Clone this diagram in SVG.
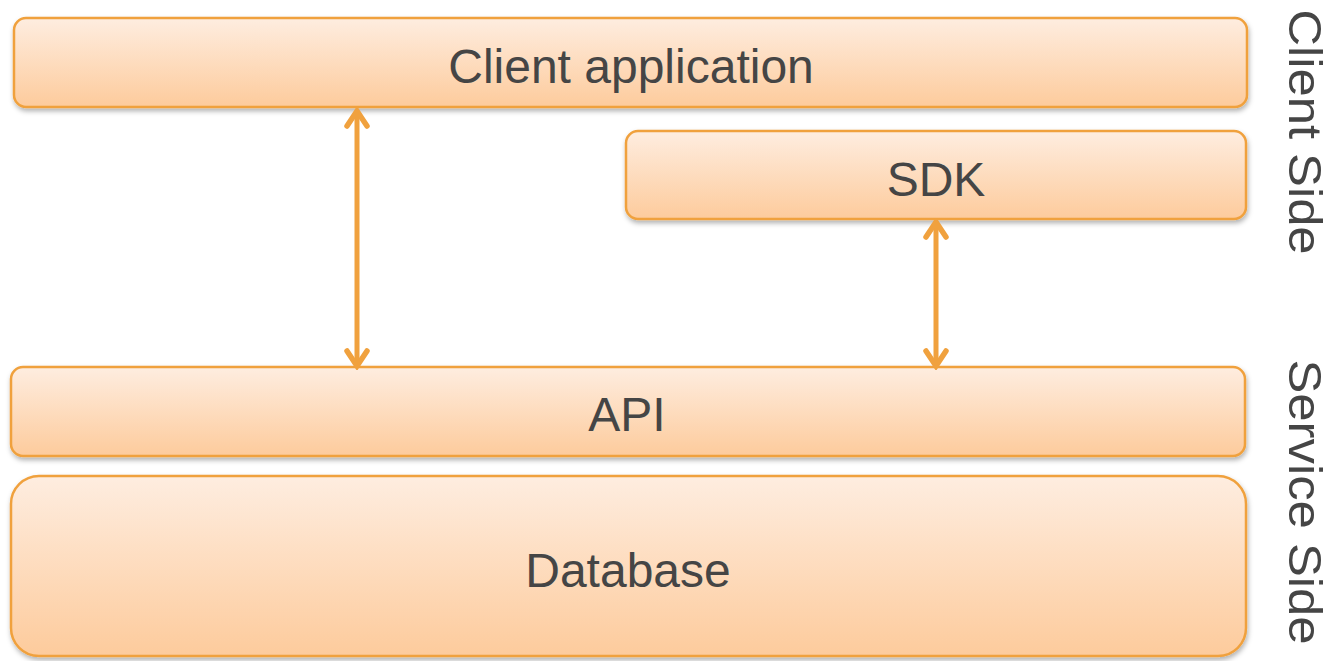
<svg xmlns="http://www.w3.org/2000/svg" width="1332" height="661" viewBox="0 0 1332 661">
<style>
.box{stroke:#F0A13E;stroke-width:2.5;fill:url(#g);filter:url(#sh)}
.lbl{font-family:"Liberation Sans",Arial,sans-serif;font-size:48px;fill:#454545;text-anchor:middle}
.side{font-family:"Liberation Sans",Arial,sans-serif;font-size:46px;fill:#454545;text-anchor:middle}
.conn{stroke:#F0A13E;stroke-width:5;fill:none;marker-start:url(#ah);marker-end:url(#ah)}
</style>
<defs>
<linearGradient id="g" x1="0" y1="0" x2="0" y2="1">
<stop offset="0" stop-color="#FEEDE0"/>
<stop offset="1" stop-color="#FDCB9C"/>
</linearGradient>
<filter id="sh" x="-5%" y="-20%" width="110%" height="150%">
<feDropShadow dx="1" dy="3" stdDeviation="2.5" flood-color="#000" flood-opacity="0.3"/>
</filter>
<marker id="ah" viewBox="0 0 24 26" refX="20" refY="13" markerWidth="24" markerHeight="26" markerUnits="userSpaceOnUse" orient="auto-start-reverse">
<path d="M5,3 L20,13 L5,23" fill="none" stroke="#F0A13E" stroke-width="5.5" stroke-linecap="round" stroke-linejoin="miter"/>
</marker>
</defs>
<g id="client-app">
<rect class="box" x="14" y="18" width="1233" height="89" rx="12"/>
<text class="lbl" x="631" y="83">Client application</text>
</g>
<g id="sdk">
<rect class="box" x="626" y="131" width="620" height="88" rx="12"/>
<text class="lbl" x="936" y="196">SDK</text>
</g>
<g id="api">
<rect class="box" x="11" y="367" width="1234" height="89" rx="12"/>
<text class="lbl" x="627" y="431">API</text>
</g>
<g id="database">
<rect class="box" x="11" y="476" width="1235" height="180" rx="28"/>
<text class="lbl" x="628" y="587">Database</text>
</g>
<g id="connectors">
<line class="conn" x1="357" y1="111" x2="357" y2="366"/>
<line class="conn" x1="936" y1="222" x2="936" y2="366"/>
</g>
<g id="side-labels">
<text class="side" transform="translate(1289,132) rotate(90)" textLength="245" lengthAdjust="spacingAndGlyphs">Client Side</text>
<text class="side" transform="translate(1289,502) rotate(90)" textLength="285" lengthAdjust="spacingAndGlyphs">Service Side</text>
</g>
</svg>
